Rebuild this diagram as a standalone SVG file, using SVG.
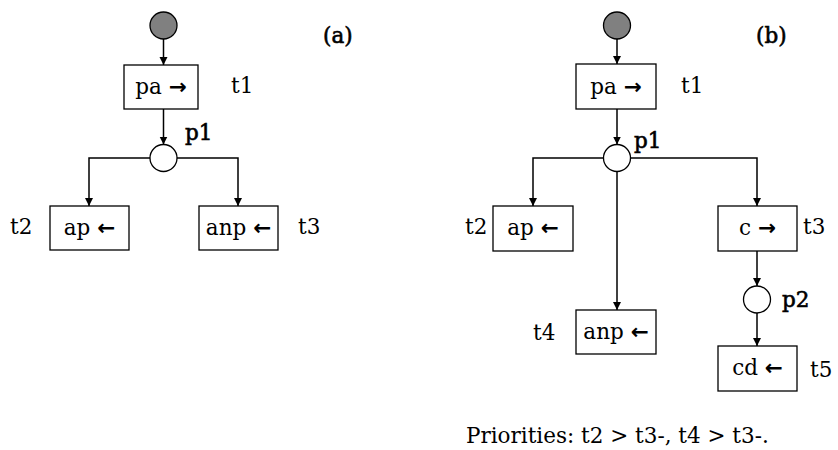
<svg xmlns="http://www.w3.org/2000/svg" width="838" height="450" viewBox="0 0 838 450">
<style>
text{font-family:"DejaVu Serif","Liberation Serif",serif;font-size:21.5px;fill:#000}
.lbl{stroke:#000;stroke-width:0.6}
.ar{font-family:"DejaVu Sans","Noto Sans",sans-serif;font-weight:bold}
.box{fill:#fff;stroke:#000;stroke-width:1.3}
.pl{fill:#fff;stroke:#000;stroke-width:1.3}
.tok{fill:#808080;stroke:#000;stroke-width:1.3}
.arc{fill:none;stroke:#000;stroke-width:1.5}
.c{text-anchor:middle}
</style>
<defs>
<marker id="ah" viewBox="0 0 10 10" refX="10" refY="5" markerWidth="8" markerHeight="9" markerUnits="userSpaceOnUse" orient="auto">
<path d="M0,0 L10,5 L0,10 Z" fill="#000"/>
</marker>
</defs>
<rect width="838" height="450" fill="#fff"/>
<g id="connectors">
<path class="arc" marker-end="url(#ah)" d="M163.5,39 V65"/>
<path class="arc" marker-end="url(#ah)" d="M163.5,109 V144.5"/>
<path class="arc" marker-end="url(#ah)" d="M150,158 H89 V206"/>
<path class="arc" marker-end="url(#ah)" d="M177,158 H238 V206"/>
<path class="arc" marker-end="url(#ah)" d="M617,39 V64"/>
<path class="arc" marker-end="url(#ah)" d="M617,109 V144.5"/>
<path class="arc" marker-end="url(#ah)" d="M603.5,158 H533 V206"/>
<path class="arc" marker-end="url(#ah)" d="M630.5,158 H757 V206"/>
<path class="arc" marker-end="url(#ah)" d="M617,171.5 V310"/>
<path class="arc" marker-end="url(#ah)" d="M757,251 V286"/>
<path class="arc" marker-end="url(#ah)" d="M757,313 V346"/>
</g>
<g id="a-start"><circle class="tok" cx="163.5" cy="25.5" r="13.5"/></g>
<g id="a-t1"><rect class="box" x="124" y="65" width="74" height="44"/><text class="c" x="161" y="94">pa <tspan class="ar">→</tspan></text><text x="231" y="93">t1</text></g>
<g id="a-p1"><circle class="pl" cx="163.5" cy="158" r="13.5"/><text class="lbl" x="185" y="140">p1</text></g>
<g id="a-t2"><rect class="box" x="50" y="206" width="79" height="44"/><text class="c" x="89.5" y="235">ap <tspan class="ar">←</tspan></text><text x="10" y="234">t2</text></g>
<g id="a-t3"><rect class="box" x="199" y="206" width="79" height="44"/><text class="c" x="238.5" y="235">anp <tspan class="ar">←</tspan></text><text x="298" y="234">t3</text></g>
<g id="a-label"><text class="lbl" x="323" y="43">(a)</text></g>
<g id="b-start"><circle class="tok" cx="617" cy="25.5" r="13.5"/></g>
<g id="b-t1"><rect class="box" x="576" y="64" width="80" height="45"/><text class="c" x="616" y="94">pa <tspan class="ar">→</tspan></text><text x="681" y="93">t1</text></g>
<g id="b-p1"><circle class="pl" cx="617" cy="158" r="13.5"/><text class="lbl" x="634" y="148">p1</text></g>
<g id="b-t2"><rect class="box" x="493" y="206" width="80" height="45"/><text class="c" x="533" y="235">ap <tspan class="ar">←</tspan></text><text x="465" y="234">t2</text></g>
<g id="b-t3"><rect class="box" x="718" y="206" width="79" height="45"/><text class="c" x="757.5" y="235">c <tspan class="ar">→</tspan></text><text x="803" y="234">t3</text></g>
<g id="b-t4"><rect class="box" x="576" y="310" width="80" height="44"/><text class="c" x="616" y="339">anp <tspan class="ar">←</tspan></text><text x="533" y="340">t4</text></g>
<g id="b-p2"><circle class="pl" cx="757" cy="299.5" r="13.5"/><text class="lbl" x="782" y="307">p2</text></g>
<g id="b-t5"><rect class="box" x="718" y="346" width="79" height="45"/><text class="c" x="757.5" y="375">cd <tspan class="ar">←</tspan></text><text x="810" y="377">t5</text></g>
<g id="b-label"><text class="lbl" x="756" y="43">(b)</text></g>
<g id="priorities"><text x="466" y="443">Priorities: t2 &gt; t3-, t4 &gt; t3-.</text></g>
</svg>
